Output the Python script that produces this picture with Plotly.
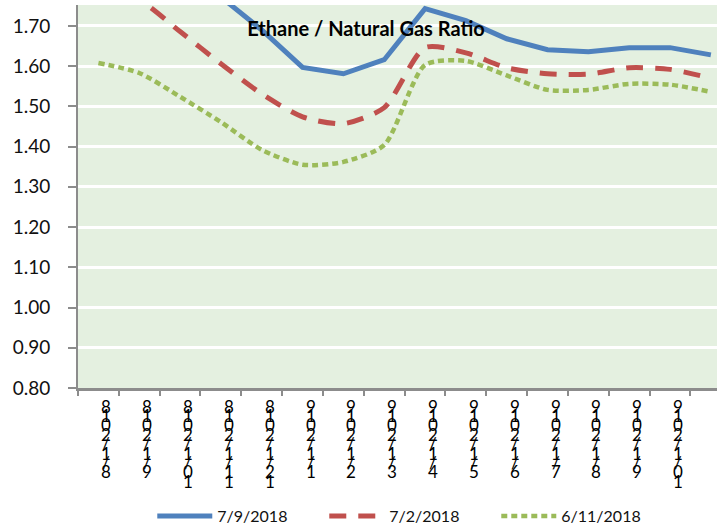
import plotly.graph_objects as go

categories = ["8/1/2018", "9/1/2018", "10/1/2018", "11/1/2018", "12/1/2018",
              "1/1/2019", "2/1/2019", "3/1/2019", "4/1/2019", "5/1/2019",
              "6/1/2019", "7/1/2019", "8/1/2019", "9/1/2019", "10/1/2019", "11/1/2019"]

ratio_0709 = [1.86, 1.84, 1.82, 1.772, 1.69, 1.597, 1.581, 1.616, 1.743, 1.713,
              1.668, 1.641, 1.636, 1.646, 1.646, 1.628]
ratio_0702 = [1.80, 1.765, 1.686, 1.606, 1.531, 1.474, 1.457, 1.497, 1.646, 1.633,
              1.596, 1.581, 1.580, 1.596, 1.592, 1.570]
ratio_0611 = [1.608, 1.583, 1.524, 1.461, 1.392, 1.355, 1.362, 1.404, 1.603, 1.613,
              1.577, 1.541, 1.541, 1.556, 1.554, 1.536]

series_names = ["7/9/2018", "7/2/2018", "6/11/2018"]
y_ticks = [0.8, 0.9, 1.0, 1.1, 1.2, 1.3, 1.4, 1.5, 1.6, 1.7]
title_text = "Ethane / Natural Gas Ratio"

FONT = "Lato"
X_MAX = 15.15

fig = go.Figure()
fig.add_trace(go.Scatter(x=categories, y=ratio_0709, name=series_names[0], mode="lines",
                         line=dict(color="#4F81BD", width=5, shape="linear")))
fig.add_trace(go.Scatter(x=categories, y=ratio_0702, name=series_names[1], mode="lines",
                         line=dict(color="#C0504D", width=5, dash="17px,12px",
                                   shape="spline", smoothing=0.7)))
fig.add_trace(go.Scatter(x=categories, y=ratio_0611, name=series_names[2], mode="lines",
                         line=dict(color="#9BBB59", width=4.5, dash="6px,4px",
                                   shape="spline", smoothing=0.7)))

# stacked (reversed) category labels as in the source chart
annotations = []
for i, cat in enumerate(categories):
    if i > X_MAX - 0.5:
        continue
    for j, ch in enumerate(reversed(cat)):
        annotations.append(dict(
            x=cat, xref="x", y=0, yref="paper", text=ch, showarrow=False,
            xanchor="center", yanchor="middle", xshift=8, yshift=-18 - 9.4 * j,
            font=dict(family=FONT, size=17, color="black")))

fig.update_layout(
    width=717, height=527,
    margin=dict(l=78, r=0, t=5, b=139, autoexpand=False),
    paper_bgcolor="white",
    plot_bgcolor="#E4F0E0",
    title=dict(text="<b>" + title_text + "</b>", x=366 / 717, xref="container",
               y=1 - 29 / 527, yref="container", xanchor="center", yanchor="middle",
               font=dict(family=FONT, size=20, color="black")),
    annotations=annotations,
    showlegend=True,
    legend=dict(orientation="h", x=0.52, xanchor="center",
                yref="container", y=1 - 516 / 527, yanchor="middle",
                font=dict(family=FONT, size=16, color="#111111"),
                itemwidth=55, entrywidth=102, entrywidthmode="pixels",
                bgcolor="rgba(0,0,0,0)"),
    xaxis=dict(type="category", range=[-0.5, X_MAX], showgrid=False, automargin=False,
               showline=True, linecolor="#8C8C8C", linewidth=3,
               ticks="outside", tickson="boundaries", ticklen=5, tickcolor="#8C8C8C",
               tickwidth=2, showticklabels=False, zeroline=False, fixedrange=True),
    yaxis=dict(range=[0.8, 1.752], tickvals=y_ticks, tickformat=".2f", automargin=False,
               showgrid=True, gridcolor="white", gridwidth=2.5,
               showline=True, linecolor="#8C8C8C", linewidth=2,
               ticks="outside", ticklen=8, tickcolor="#8C8C8C", tickwidth=2,
               ticklabelstandoff=14,
               tickfont=dict(family=FONT, size=19, color="#111111"),
               zeroline=False, fixedrange=True),
)

fig.write_html("out.html", config={"displayModeBar": False},
               post_script="document.body.style.margin='0px';")
